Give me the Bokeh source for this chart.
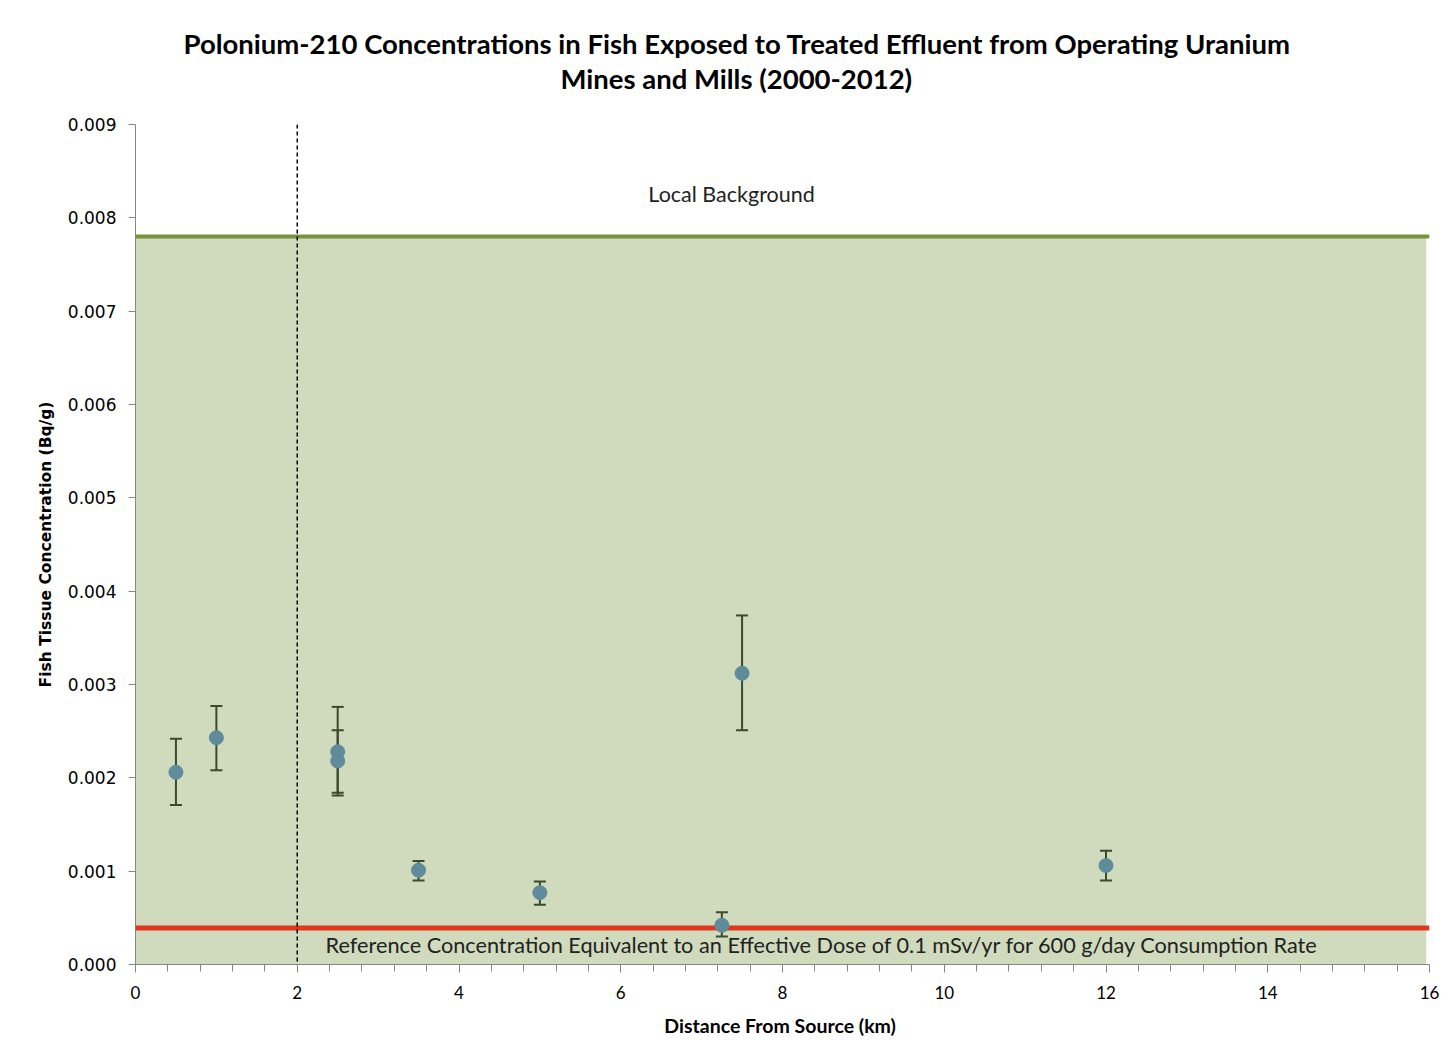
from bokeh.plotting import figure
from bokeh.models import (ColumnDataSource, Whisker, TeeHead, Span, Label, Title,
                          FixedTicker, NumeralTickFormatter, Range1d)
from bokeh.embed import file_html
from bokeh.resources import INLINE

# ---- data ----
distance_km = [0.5, 1.0, 2.5, 2.5, 3.5, 5.0, 7.25, 7.5, 12.0]
po210_mean = [0.00206, 0.00243, 0.00228, 0.00218, 0.00101, 0.00077, 0.00042, 0.00312, 0.00106]
po210_upper = [0.00242, 0.00277, 0.00276, 0.00251, 0.00111, 0.00089, 0.00056, 0.00374, 0.00122]
po210_lower = [0.00171, 0.00208, 0.00181, 0.00184, 0.00090, 0.00064, 0.00030, 0.00251, 0.00090]

local_background = 0.0078
reference_conc = 0.00039
boundary_km = 2.0

y_ticks = [0.000, 0.001, 0.002, 0.003, 0.004, 0.005, 0.006, 0.007, 0.008, 0.009]
x_ticks = [0, 2, 4, 6, 8, 10, 12, 14, 16]
x_minor = [i * 0.4 for i in range(41)]

title_line1 = "Polonium-210 Concentrations in Fish Exposed to Treated Effluent from Operating Uranium"
title_line2 = "Mines and Mills (2000-2012)"
x_label = "Distance  From Source (km)"
y_label = "Fish Tissue Concentration (Bq/g)"
bg_text = "Local Background"
ref_text = "Reference Concentration Equivalent to an Effective Dose of 0.1 mSv/yr for 600 g/day Consumption Rate"

src = ColumnDataSource(dict(x=distance_km, y=po210_mean, up=po210_upper, lo=po210_lower))

p = figure(width=1440, height=1053, output_backend="svg", toolbar_location=None,
           x_range=Range1d(0, 16), y_range=Range1d(0, 0.009),
           min_border_left=135, min_border_right=11, min_border_top=124, min_border_bottom=89)
p.background_fill_color = "white"
p.border_fill_color = "white"
p.outline_line_color = None
p.grid.visible = False

# titles (second line added first so it sits closer to the frame)
t2 = Title(text=title_line2, align="left", text_font="Lato", text_font_size="27.5px",
           text_font_style="bold", text_color="#000000", offset=425, standoff=60)
t1 = Title(text=title_line1, align="left", text_font="Lato", text_font_size="27.5px",
           text_font_style="bold", text_color="#000000", offset=48, standoff=-60)
p.add_layout(t2, "above")
p.add_layout(t1, "above")

# background shaded area up to local background
p.varea(x=[0, 15.96], y1=[0, 0], y2=[local_background, local_background],
        fill_color="#D0DABC")

p.add_layout(Span(location=local_background, dimension="width", line_color="#77933C",
                  line_width=4))
p.add_layout(Span(location=reference_conc, dimension="width", line_color="#E0381C",
                  line_width=5))
p.add_layout(Span(location=boundary_km, dimension="height", line_color="#000000",
                  line_width=1.5, line_dash="4 3"))

# error bars
p.add_layout(Whisker(source=src, base="x", upper="up", lower="lo", level="annotation",
                     line_color="#3A4A2C", line_width=2,
                     upper_head=TeeHead(size=12, line_color="#3A4A2C", line_width=2),
                     lower_head=TeeHead(size=12, line_color="#3A4A2C", line_width=2)))
p.scatter("x", "y", source=src, size=14, fill_color="#5F8B9A", line_color="#5F8B9A",
          level="overlay")

p.add_layout(Label(x=7.37, y=0.00826, text=bg_text, text_align="center",
                   text_baseline="middle", text_font="Lato", text_font_size="21.5px",
                   text_color="#222222"))
p.add_layout(Label(x=2.35, y=0.000205, text=ref_text, text_align="left",
                   text_baseline="middle", text_font="Lato", text_font_size="21.7px",
                   text_color="#222222"))

# axes
xa = p.xaxis[0]
xa.ticker = FixedTicker(ticks=x_ticks, minor_ticks=x_minor)
xa.axis_line_color = "#868686"
xa.major_tick_line_color = "#868686"
xa.minor_tick_line_color = "#868686"
xa.major_tick_in = 0
xa.major_tick_out = 8
xa.minor_tick_in = 0
xa.minor_tick_out = 7
xa.major_label_text_font = "Lato"
xa.major_label_text_font_size = "17px"
xa.major_label_text_color = "#000000"
xa.major_label_standoff = 13
xa.axis_label = x_label
xa.axis_label_text_font = "Lato"
xa.axis_label_text_font_size = "19.5px"
xa.axis_label_text_font_style = "bold"
xa.axis_label_text_color = "#000000"
xa.axis_label_standoff = 12

ya = p.yaxis[0]
ya.ticker = FixedTicker(ticks=y_ticks, minor_ticks=[])
ya.formatter = NumeralTickFormatter(format="0.000")
ya.axis_line_color = "#868686"
ya.major_tick_line_color = "#868686"
ya.major_tick_in = 0
ya.major_tick_out = 7
ya.minor_tick_out = 0
ya.major_label_text_font = "DejaVu Sans"
ya.major_label_text_font_size = "17px"
ya.major_label_text_color = "#000000"
ya.major_label_standoff = 12
ya.axis_label = y_label
ya.axis_label_text_font = "DejaVu Sans"
ya.axis_label_text_font_size = "15.5px"
ya.axis_label_text_font_style = "bold"
ya.axis_label_text_color = "#000000"
ya.axis_label_standoff = 10

open("out.html", "w").write(file_html(p, INLINE))
